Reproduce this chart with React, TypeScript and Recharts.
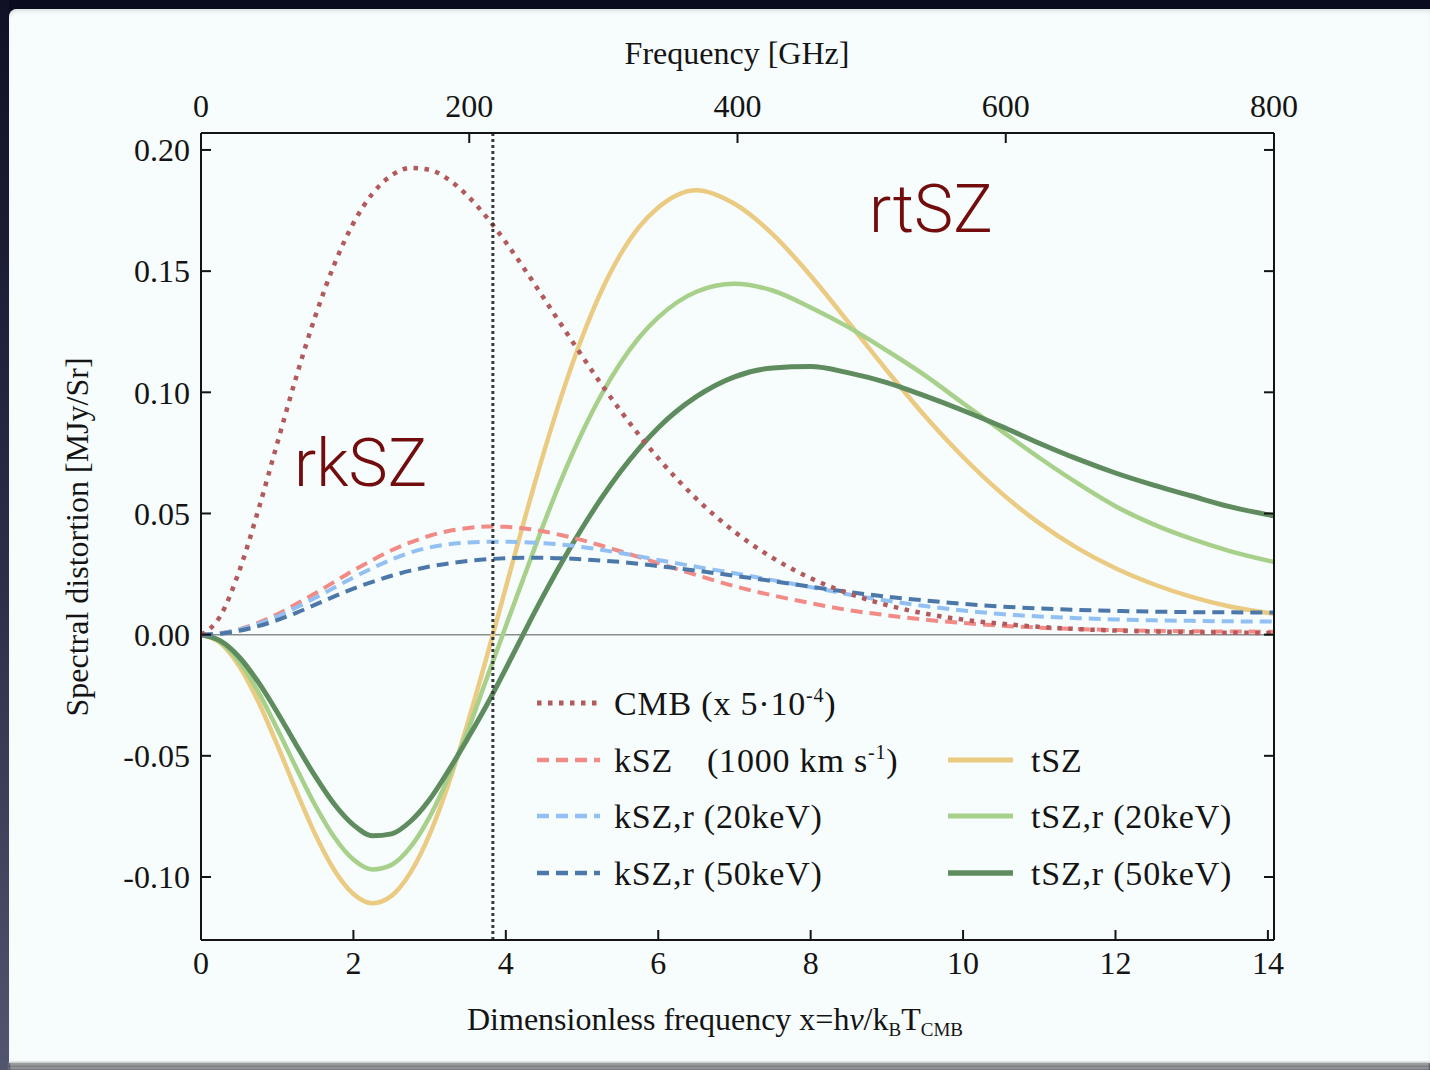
import { LineChart, Line, XAxis, YAxis, ReferenceLine, Legend } from "recharts";

// dimensionless frequency x = h nu / k T_CMB
const xValues = [
  0, 0.25, 0.5, 0.75, 1, 1.25, 1.5, 1.75, 2, 2.25, 2.5, 2.75, 3, 3.25, 3.5, 3.75, 4, 4.25, 4.5, 4.75, 5, 5.25,
  5.5, 5.75, 6, 6.5, 7, 7.5, 8, 8.5, 9, 9.5, 10, 10.5, 11, 11.5, 12, 12.5, 13, 13.5, 14.08,
];

// spectral distortion [MJy/Sr]
const cmbValues = [
  0, 0.0075, 0.0261, 0.0512, 0.0789, 0.1064, 0.1314, 0.1528, 0.1698, 0.182, 0.1895, 0.1926, 0.1918, 0.1878,
  0.181, 0.1722, 0.1619, 0.1506, 0.1388, 0.1268, 0.115, 0.1035, 0.0926, 0.0823, 0.0728, 0.0561, 0.0425, 0.0317,
  0.0233, 0.017, 0.0122, 0.0087, 0.0062, 0.0045, 0.0032, 0.0023, 0.0017, 0.0013, 0.001, 0.0008, 0.0007,
];
const kszValues = [
  0, 0.0006, 0.0022, 0.0049, 0.0084, 0.0126, 0.0171, 0.0218, 0.0265, 0.0308, 0.0348, 0.0381, 0.0408, 0.0428,
  0.044, 0.0446, 0.0445, 0.0438, 0.0426, 0.0409, 0.039, 0.0368, 0.0344, 0.032, 0.0295, 0.0246, 0.02, 0.0162,
  0.013, 0.0101, 0.008, 0.0062, 0.0048, 0.0037, 0.0029, 0.0023, 0.0019, 0.0016, 0.0014, 0.0013, 0.0012,
];
const ksz20Values = [
  0, 0.0005, 0.002, 0.0044, 0.0075, 0.0112, 0.0152, 0.0194, 0.0236, 0.0275, 0.031, 0.0339, 0.036, 0.0373,
  0.038, 0.0383, 0.0383, 0.0381, 0.0377, 0.0371, 0.0362, 0.035, 0.0337, 0.0323, 0.0308, 0.028, 0.0253, 0.0225,
  0.0196, 0.0166, 0.014, 0.0118, 0.01, 0.0085, 0.0075, 0.0068, 0.0063, 0.0059, 0.0057, 0.0055, 0.0054,
];
const ksz50Values = [
  0, 0.0004, 0.0016, 0.0035, 0.006, 0.009, 0.0124, 0.0158, 0.019, 0.0218, 0.0243, 0.0264, 0.0281, 0.0294,
  0.0304, 0.0311, 0.0315, 0.0317, 0.0317, 0.0315, 0.0311, 0.0306, 0.03, 0.0292, 0.0283, 0.0264, 0.0243, 0.0221,
  0.0198, 0.0176, 0.0157, 0.0141, 0.0127, 0.0116, 0.0108, 0.0102, 0.0098, 0.0095, 0.0093, 0.0092, 0.0091,
];
const tszValues = [
  0, -0.0033, -0.0129, -0.0275, -0.0455, -0.0645, -0.0825, -0.0972, -0.107, -0.1108, -0.1078, -0.0981, -0.0824,
  -0.0614, -0.0365, -0.0091, 0.0195, 0.0481, 0.0753, 0.1004, 0.1226, 0.1415, 0.1567, 0.1683, 0.1763, 0.1834,
  0.1778, 0.1653, 0.1481, 0.1287, 0.109, 0.0902, 0.0733, 0.0585, 0.046, 0.0357, 0.0274, 0.0208, 0.0156, 0.0116,
  0.0086,
];
const tsz20Values = [
  0, -0.0029, -0.0111, -0.0235, -0.0388, -0.055, -0.0705, -0.0836, -0.0928, -0.0969, -0.095, -0.0876, -0.0752,
  -0.0587, -0.0397, -0.018, 0.0035, 0.0248, 0.0459, 0.0656, 0.0833, 0.0988, 0.1119, 0.1226, 0.1309, 0.1415,
  0.1448, 0.142, 0.135, 0.1268, 0.1172, 0.107, 0.0955, 0.0842, 0.073, 0.0625, 0.053, 0.0455, 0.0395, 0.0345,
  0.03,
];
const tsz50Values = [
  0, -0.0025, -0.0092, -0.0195, -0.032, -0.0455, -0.0585, -0.07, -0.0785, -0.083, -0.0822, -0.077, -0.068,
  -0.056, -0.0428, -0.029, -0.014, 0.0015, 0.0165, 0.0307, 0.0439, 0.0561, 0.0671, 0.0769, 0.0854, 0.0982,
  0.1064, 0.11, 0.1106, 0.108, 0.104, 0.0985, 0.0925, 0.086, 0.079, 0.0725, 0.0667, 0.0617, 0.0572, 0.0528,
  0.049,
];

const xTicks = [0, 2, 4, 6, 8, 10, 12, 14];
const ghzTicks = [0, 200, 400, 600, 800];
const yTicks = [-0.1, -0.05, 0, 0.05, 0.1, 0.15, 0.2];

const X_MAX = 14.08; // x at 800 GHz
const GHZ_MAX = 800;
const Y_MIN = -0.126;
const Y_MAX = 0.207;
const X_CROSSOVER = 3.83; // tSZ null, kSZ maximum

// top axis shares the x scale; GHz ticks placed at their x positions
const ghzTickX = ghzTicks.map((g) => (g / GHZ_MAX) * X_MAX);

const rows = xValues.map((x, i) => ({
  x,
  cmb: cmbValues[i],
  ksz: kszValues[i],
  ksz20: ksz20Values[i],
  ksz50: ksz50Values[i],
  tsz: tszValues[i],
  tsz20: tsz20Values[i],
  tsz50: tsz50Values[i],
}));

const serif = "'Liberation Serif', 'Times New Roman', serif";
const ink = "#141414";

const styles: Record<string, { color: string; dash?: string; width: number }> = {
  cmb: { color: "#b25a5c", dash: "4.5 6.5", width: 4.5 },
  ksz: { color: "#f28a86", dash: "12 7", width: 4 },
  ksz20: { color: "#92c0f2", dash: "12 7", width: 4 },
  ksz50: { color: "#4b78a9", dash: "12 7", width: 4 },
  tsz: { color: "#ebca82", width: 4.5 },
  tsz20: { color: "#a7d08a", width: 4.5 },
  tsz50: { color: "#5f8c5e", width: 5 },
};

const tickFont = { fill: ink, fontSize: 32, fontFamily: serif };
const axisStroke = { stroke: ink, strokeWidth: 2 };

const Sample = ({ k, x1, x2, y }: { k: string; x1: number; x2: number; y: number }) => (
  <line
    x1={x1}
    x2={x2}
    y1={y}
    y2={y}
    stroke={styles[k].color}
    strokeWidth={styles[k].width + 0.5}
    strokeDasharray={styles[k].dash}
  />
);

const renderLegend = () => {
  const t = { fontFamily: serif, fontSize: 34, fill: ink, letterSpacing: 0.8 };
  const sup = { fontSize: 20 };
  const rowsY = [31, 88, 144, 201];
  return (
    <svg width={740} height={230} style={{ overflow: "visible" }}>
      <Sample k="cmb" x1={7} x2={70} y={rowsY[0]} />
      <text x={84} y={rowsY[0] + 12} {...t}>
        CMB (x 5·10<tspan {...sup} dy={-13}>-4</tspan>
        <tspan dy={13}>)</tspan>
      </text>
      <Sample k="ksz" x1={7} x2={70} y={rowsY[1]} />
      <text x={84} y={rowsY[1] + 12} {...t}>kSZ</text>
      <text x={177} y={rowsY[1] + 12} {...t}>
        (1000 km s<tspan {...sup} dy={-13}>-1</tspan>
        <tspan dy={13}>)</tspan>
      </text>
      <Sample k="ksz20" x1={7} x2={70} y={rowsY[2]} />
      <text x={84} y={rowsY[2] + 12} {...t}>kSZ,r (20keV)</text>
      <Sample k="ksz50" x1={7} x2={70} y={rowsY[3]} />
      <text x={84} y={rowsY[3] + 12} {...t}>kSZ,r (50keV)</text>

      <Sample k="tsz" x1={418} x2={483} y={rowsY[1]} />
      <text x={501} y={rowsY[1] + 12} {...t}>tSZ</text>
      <Sample k="tsz20" x1={418} x2={483} y={rowsY[2]} />
      <text x={501} y={rowsY[2] + 12} {...t}>tSZ,r (20keV)</text>
      <Sample k="tsz50" x1={418} x2={483} y={rowsY[3]} />
      <text x={501} y={rowsY[3] + 12} {...t}>tSZ,r (50keV)</text>
    </svg>
  );
};

const lineOrder = ["tsz", "tsz20", "tsz50", "ksz", "ksz20", "ksz50", "cmb"];

export default function App() {
  return (
    <div
      style={{
        position: "fixed",
        left: 0,
        top: 0,
        width: 1430,
        height: 1070,
        background: "#0b0b1f",
        overflow: "hidden",
      }}
    >
      <div
        style={{
          position: "absolute",
          left: 0,
          top: 0,
          width: 9,
          height: 1070,
          background: "linear-gradient(#101026, #2c2f4a 55%, #51556e)",
        }}
      />
      <div
        style={{
          position: "absolute",
          left: 9,
          top: 9,
          width: 1421,
          height: 1054,
          background: "#f7fcfc",
          borderTopLeftRadius: 8,
          boxShadow: "inset 0 4px 4px -2px #d9dede",
        }}
      />
      <div
        style={{
          position: "absolute",
          left: 9,
          top: 1062,
          width: 1421,
          height: 8,
          background: "linear-gradient(#c9cbcb, #6c6d70 60%, #d5d6d6)",
          filter: "blur(1px)",
        }}
      />

      <div style={{ position: "absolute", left: 0, top: 0 }}>
        <LineChart width={1430} height={1070} data={rows} margin={{ top: 73, right: 136, bottom: 70, left: 101 }}>
          <XAxis
            xAxisId="x"
            dataKey="x"
            type="number"
            domain={[0, X_MAX]}
            ticks={xTicks}
            interval={0}
            allowDataOverflow
            height={60}
            tickSize={-10}
            tickMargin={21}
            axisLine={axisStroke}
            tickLine={axisStroke}
            tick={tickFont}
          />
          <XAxis
            xAxisId="ghz"
            dataKey="x"
            orientation="top"
            type="number"
            domain={[0, X_MAX]}
            ticks={ghzTickX}
            interval={0}
            allowDataOverflow
            height={60}
            tickSize={-10}
            tickMargin={26}
            axisLine={axisStroke}
            tickLine={axisStroke}
            tick={tickFont}
            tickFormatter={(v: number) => String(Math.round((v / X_MAX) * GHZ_MAX))}
          />
          <YAxis
            yAxisId="y"
            type="number"
            domain={[Y_MIN, Y_MAX]}
            ticks={yTicks}
            interval={0}
            allowDataOverflow
            width={100}
            tickSize={-10}
            tickMargin={21}
            axisLine={axisStroke}
            tickLine={axisStroke}
            tick={tickFont}
            tickFormatter={(v: number) => v.toFixed(2)}
          />
          <YAxis
            yAxisId="right"
            orientation="right"
            type="number"
            domain={[Y_MIN, Y_MAX]}
            ticks={yTicks}
            interval={0}
            allowDataOverflow
            width={20}
            tickSize={-10}
            axisLine={axisStroke}
            tickLine={axisStroke}
            tickFormatter={() => ""}
          />

          <ReferenceLine xAxisId="x" yAxisId="y" y={0} stroke="#8c8c8c" strokeWidth={1.5} />

          {lineOrder.map((k) => (
            <Line
              key={k}
              xAxisId="x"
              yAxisId="y"
              type="monotone"
              dataKey={k}
              stroke={styles[k].color}
              strokeWidth={styles[k].width}
              strokeDasharray={styles[k].dash}
              dot={false}
              activeDot={false}
              isAnimationActive={false}
            />
          ))}

          <ReferenceLine
            xAxisId="x"
            yAxisId="y"
            x={X_CROSSOVER}
            stroke="#3a3a3a"
            strokeWidth={3}
            strokeDasharray="3 3"
          />

          <Legend
            layout="horizontal"
            verticalAlign="middle"
            align="center"
            content={renderLegend}
            wrapperStyle={{ position: "absolute", left: 530, top: 672, width: 740, height: 230 }}
          />
        </LineChart>
      </div>

      <svg
        width={1430}
        height={1070}
        style={{ position: "absolute", left: 0, top: 0, pointerEvents: "none" }}
      >
        <text x={737} y={64} textAnchor="middle" fontFamily={serif} fontSize={32} fill={ink}>
          Frequency [GHz]
        </text>
        <text x={467} y={1030} fontFamily={serif} fontSize={32} fill={ink}>
          Dimensionless frequency x=h<tspan fontStyle="italic">ν</tspan>/k
          <tspan fontSize={19} dy={6}>B</tspan>
          <tspan dy={-6}>T</tspan>
          <tspan fontSize={19} dy={6}>CMB</tspan>
        </text>
        <text
          transform="translate(88,537) rotate(-90)"
          textAnchor="middle"
          fontFamily={serif}
          fontSize={32}
          fill={ink}
        >
          Spectral distortion [MJy/Sr]
        </text>
        <text x={294} y={486} fontFamily="Roboto, 'Open Sans', sans-serif" fontWeight={300} fontSize={66} fill="#730c0c">
          rkSZ
        </text>
        <text x={869} y={232} fontFamily="Roboto, 'Open Sans', sans-serif" fontWeight={300} fontSize={66} fill="#730c0c">
          rtSZ
        </text>
      </svg>
    </div>
  );
}
